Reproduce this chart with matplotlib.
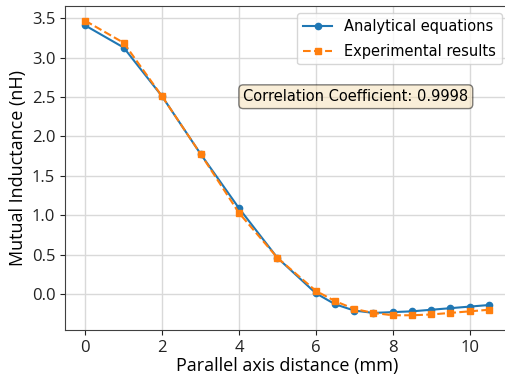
import numpy as np
import matplotlib
matplotlib.use("Agg")
import matplotlib.pyplot as plt

# parallel axis distance (mm)
distance = [0, 1, 2, 3, 4, 5, 6, 6.5, 7, 7.5, 8, 8.5, 9, 9.5, 10, 10.5]
# mutual inductance (nH)
analytical = [3.41, 3.13, 2.51, 1.78, 1.09, 0.46, 0.01, -0.13, -0.21, -0.24,
              -0.23, -0.22, -0.20, -0.18, -0.16, -0.14]
experimental = [3.47, 3.19, 2.51, 1.78, 1.03, 0.46, 0.04, -0.09, -0.19, -0.24,
                -0.27, -0.27, -0.26, -0.24, -0.22, -0.20]
corr_label = "Correlation Coefficient: 0.9998"

fig = plt.figure(figsize=(5.06, 3.80), dpi=100)
ax = fig.add_axes([65/506, 50/380, 444/506, 324/380])

ax.plot(distance, analytical, '-o', color='#1f77b4', lw=1.5, ms=4.5,
        label='Analytical equations')
ax.plot(distance, experimental, '--s', color='#ff7f0e', lw=1.5, ms=4.5,
        label='Experimental results')

ax.set_xlim(-0.525, 11.025)
ax.set_ylim(-0.457, 3.657)
ax.set_xticks([0, 2, 4, 6, 8, 10])
ax.set_yticks(np.arange(0, 3.51, 0.5))
ax.grid(True, color='#d9d9d9', lw=1)
ax.set_axisbelow(True)
for sp in ax.spines.values():
    sp.set_color('#404040')

tick_font = 'Open Sans'
ax.tick_params(labelsize=12, labelfontfamily=tick_font, colors='#222222')
ax.set_xlabel('Parallel axis distance (mm)', family=tick_font, fontsize=13,
              labelpad=1)
ax.set_ylabel('Mutual Inductance (nH)', family=tick_font, fontsize=13,
              labelpad=3)

leg = ax.legend(loc='upper right', fontsize=10.5, labelspacing=0.65)
ax.text(0.655, 0.72, corr_label, transform=ax.transAxes, fontsize=10.5,
        ha='center', va='center',
        bbox=dict(boxstyle='round', facecolor='wheat', alpha=0.5))

fig.savefig('out.png', dpi=100)
